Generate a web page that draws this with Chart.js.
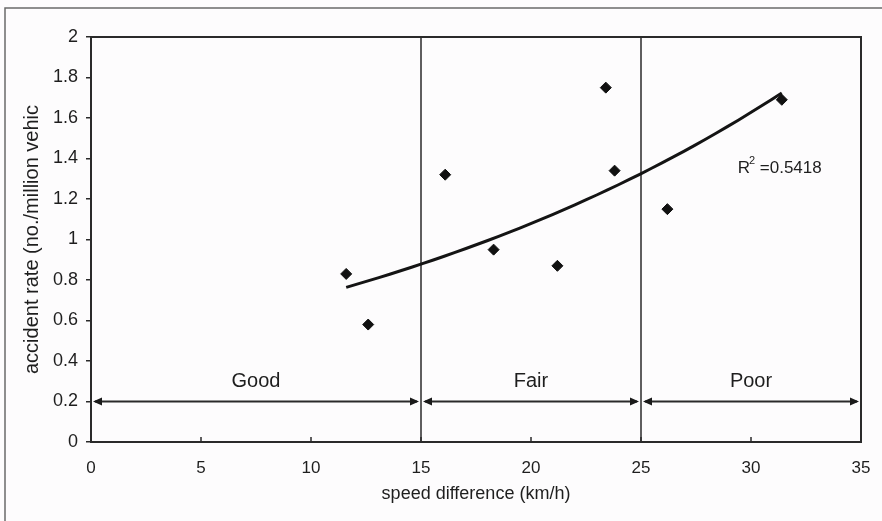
<!DOCTYPE html>
<html>
<head>
<meta charset="utf-8">
<script src="https://cdn.jsdelivr.net/npm/chart.js@4.4.1/dist/chart.umd.min.js"></script>
<style>
  html, body { margin: 0; padding: 0; background: #fdfcfd; }
</style>
</head>
<body>
<canvas id="scatterChart" width="882" height="521"></canvas>
<script>
// observed sections: speed difference vs accident rate
const speedDiff = [11.6, 12.6, 16.1, 18.3, 21.2, 23.4, 23.8, 26.2, 31.4];
const accidentRate = [0.83, 0.58, 1.32, 0.95, 0.87, 1.75, 1.34, 1.15, 1.69];

// level-of-service zones along the x axis
const zoneBounds = [0, 15, 25, 35];
const zoneNames = ['Good', 'Fair', 'Poor'];

const xTicks = [0, 5, 10, 15, 20, 25, 30, 35];
const r2Value = '0.5418';

const FONT = '"Liberation Sans", Arial, sans-serif';
const INK = '#1e1e1e';

// exponential trend y = a*e^(bx), least squares on ln(y)
function expFit(xs, ys) {
  const n = xs.length;
  const ly = ys.map(v => Math.log(v));
  const mx = xs.reduce((s, v) => s + v, 0) / n;
  const my = ly.reduce((s, v) => s + v, 0) / n;
  let sxy = 0, sxx = 0;
  for (let i = 0; i < n; i++) {
    sxy += (xs[i] - mx) * (ly[i] - my);
    sxx += (xs[i] - mx) * (xs[i] - mx);
  }
  const b = sxy / sxx;
  const a = Math.exp(my - b * mx);
  return x => a * Math.exp(b * x);
}

const trend = expFit(speedDiff, accidentRate);
const xLo = Math.min(...speedDiff);
const xHi = Math.max(...speedDiff);
const trendData = [];
for (let i = 0; i <= 40; i++) {
  const x = xLo + (xHi - xLo) * i / 40;
  trendData.push({ x: x, y: trend(x) });
}

const points = speedDiff.map((x, i) => ({ x: x, y: accidentRate[i] }));

function drawArrow(ctx, x1, x2, y) {
  const len = 9, half = 4;
  ctx.beginPath();
  ctx.moveTo(x1 + 2, y);
  ctx.lineTo(x2 - 2, y);
  ctx.stroke();
  ctx.beginPath();
  ctx.moveTo(x1, y);
  ctx.lineTo(x1 + len, y - half);
  ctx.lineTo(x1 + len, y + half);
  ctx.closePath();
  ctx.fill();
  ctx.beginPath();
  ctx.moveTo(x2, y);
  ctx.lineTo(x2 - len, y - half);
  ctx.lineTo(x2 - len, y + half);
  ctx.closePath();
  ctx.fill();
}

const decor = {
  id: 'decor',
  beforeDraw(chart) {
    const ctx = chart.ctx;
    ctx.save();
    ctx.fillStyle = '#fdfcfd';
    ctx.fillRect(0, 0, chart.width, chart.height);
    // outer chart border
    ctx.strokeStyle = '#6a6a6a';
    ctx.lineWidth = 1.5;
    ctx.beginPath();
    ctx.moveTo(5, chart.height);
    ctx.lineTo(5, 8);
    ctx.lineTo(chart.width, 8);
    ctx.stroke();
    ctx.restore();
  },
  beforeDatasetsDraw(chart) {
    const ctx = chart.ctx;
    const area = chart.chartArea;
    const xs = chart.scales.x, ys = chart.scales.y;
    ctx.save();
    ctx.strokeStyle = '#2a2a2a';
    ctx.fillStyle = '#1a1a1a';

    // zone dividers
    ctx.lineWidth = 1.5;
    zoneBounds.slice(1, -1).forEach(v => {
      const px = xs.getPixelForValue(v);
      ctx.beginPath();
      ctx.moveTo(px, area.top);
      ctx.lineTo(px, area.bottom);
      ctx.stroke();
    });

    // inside tick marks on x axis
    xTicks.forEach(v => {
      const px = xs.getPixelForValue(v);
      ctx.beginPath();
      ctx.moveTo(px, area.bottom);
      ctx.lineTo(px, area.bottom - 5);
      ctx.stroke();
    });

    // zone arrows and names
    const ay = ys.getPixelForValue(0.2);
    const ly = ys.getPixelForValue(0.3);
    ctx.lineWidth = 1.8;
    ctx.font = '20px ' + FONT;
    ctx.textAlign = 'center';
    ctx.textBaseline = 'middle';
    zoneNames.forEach((name, i) => {
      const x1 = xs.getPixelForValue(zoneBounds[i]);
      const x2 = xs.getPixelForValue(zoneBounds[i + 1]);
      drawArrow(ctx, x1 + 2, x2 - 2, ay);
      ctx.fillStyle = INK;
      ctx.fillText(name, (x1 + x2) / 2, ly);
      ctx.fillStyle = '#1a1a1a';
    });

    // R squared note
    const rx = xs.getPixelForValue(29.4);
    const ry = ys.getPixelForValue(1.33);
    ctx.textAlign = 'left';
    ctx.textBaseline = 'alphabetic';
    ctx.fillStyle = INK;
    ctx.font = '17px ' + FONT;
    ctx.fillText('R', rx, ry);
    const rw = ctx.measureText('R').width;
    ctx.font = '11px ' + FONT;
    ctx.fillText('2', rx + rw - 1, ry - 9);
    ctx.font = '17px ' + FONT;
    ctx.fillText(' =' + r2Value, rx + rw + 5, ry);
    ctx.restore();
  },
  afterDraw(chart) {
    const ctx = chart.ctx;
    const a = chart.chartArea;
    ctx.save();
    ctx.strokeStyle = '#2a2a2a';
    ctx.lineWidth = 2;
    ctx.strokeRect(a.left, a.top, a.right - a.left, a.bottom - a.top);
    ctx.restore();
  }
};

const config = {
  type: 'scatter',
  data: {
    datasets: [
      {
        label: 'accident rate',
        data: points,
        pointStyle: 'rectRot',
        pointRadius: 5.5,
        backgroundColor: '#111',
        borderColor: '#111',
        borderWidth: 1,
        order: 1,
      },
      {
        type: 'line',
        label: 'trend',
        data: trendData,
        borderColor: '#141414',
        borderWidth: 3,
        pointRadius: 0,
        fill: false,
        order: 2,
      },
    ],
  },
  options: {
    responsive: false,
    animation: false,
    devicePixelRatio: 1,
    layout: { padding: { top: 37, right: 21, left: 0, bottom: 0 } },
    plugins: { legend: { display: false }, tooltip: { enabled: false } },
    scales: {
      x: {
        type: 'linear',
        min: 0,
        max: 35,
        afterFit: s => { s.height = 79; s.paddingLeft = 0; s.paddingRight = 0; },
        afterBuildTicks: s => { s.ticks = xTicks.map(v => ({ value: v })); },
        ticks: { color: INK, font: { family: FONT, size: 17 }, padding: 8, maxRotation: 0 },
        grid: { display: false },
        border: { display: false },
        title: {
          display: true,
          text: 'speed difference (km/h)',
          color: INK,
          font: { family: FONT, size: 18 },
          padding: { top: 16, bottom: 16 },
        },
      },
      y: {
        min: 0,
        max: 2,
        afterFit: s => { s.width = 91; s.paddingTop = 0; s.paddingBottom = 0; },
        ticks: {
          stepSize: 0.2,
          color: INK,
          font: { family: FONT, size: 18 },
          padding: 8,
          callback: v => String(+v.toFixed(1)),
        },
        grid: { drawOnChartArea: false, drawTicks: true, tickLength: 5, color: '#2a2a2a', lineWidth: 1.5 },
        border: { display: false },
        title: {
          display: true,
          text: 'accident rate (no./million vehic',
          color: INK,
          font: { family: FONT, size: 20 },
          padding: { top: 20, bottom: 20 },
        },
      },
    },
  },
  plugins: [decor],
};

var scatterChart = new Chart(document.getElementById('scatterChart'), config);
</script>
</body>
</html>
